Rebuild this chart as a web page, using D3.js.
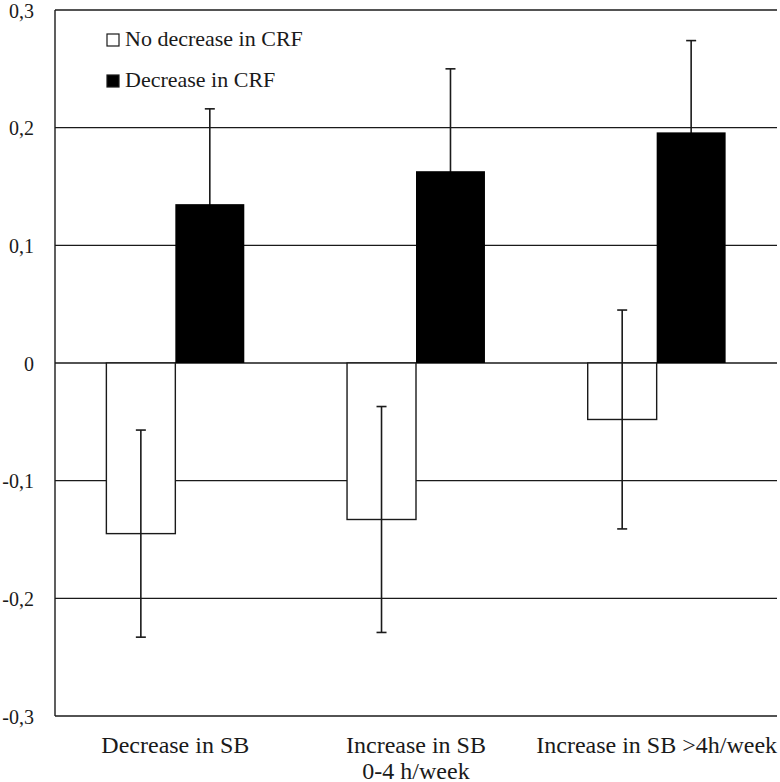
<!DOCTYPE html>
<html>
<head>
<meta charset="utf-8">
<script src="https://cdn.jsdelivr.net/npm/d3@7"></script>
<style>
  html, body { margin: 0; padding: 0; background: #fff; }
</style>
</head>
<body>
<svg id="chart" width="780" height="782"></svg>
<script>
// ---- Data ----
const categories = ["Decrease in SB", "Increase in SB\n0-4 h/week", "Increase in SB >4h/week"];
const seriesNames = ["No decrease in CRF", "Decrease in CRF"];
const noDecreaseValues = [-0.145, -0.133, -0.048];
const noDecreaseErrors = [0.088, 0.096, 0.093];
const decreaseValues = [0.135, 0.163, 0.196];
const decreaseErrors = [0.081, 0.087, 0.078];
const yTicks = [-0.3, -0.2, -0.1, 0, 0.1, 0.2, 0.3];

const seriesValues = [noDecreaseValues, decreaseValues];
const seriesErrors = [noDecreaseErrors, decreaseErrors];
const seriesFill = ["#ffffff", "#000000"];

// ---- Layout ----
const FONT = "Liberation Serif";
(function () {
const svg = d3.select("#chart");
const mLeft = 55, mRight = 777, mTop = 10, mBottom = 716;
const ink = "#1a1a1a";

const y = d3.scaleLinear().domain([-0.3, 0.3]).range([mBottom, mTop]);
const x0 = d3.scaleBand().domain(categories).range([mLeft, mRight]).padding(0);
const x1 = d3.scaleBand().domain(seriesNames).range([0, x0.bandwidth()])
  .paddingInner(0).paddingOuter(0.745);

const fmt = d => d === 0 ? "0" : d3.format(".1f")(d).replace(".", ",").replace("−", "-");

// gridlines
svg.append("g").selectAll("line").data(yTicks).join("line")
  .attr("x1", mLeft).attr("x2", mRight)
  .attr("y1", d => y(d)).attr("y2", d => y(d))
  .attr("stroke", ink).attr("stroke-width", 1.4);

// left axis line
svg.append("line").attr("x1", mLeft).attr("x2", mLeft)
  .attr("y1", y(0.3)).attr("y2", y(-0.3))
  .attr("stroke", ink).attr("stroke-width", 1.4);

// y tick labels
svg.append("g").selectAll("text").data(yTicks).join("text")
  .attr("x", 34).attr("y", d => y(d) + 7.5)
  .attr("text-anchor", "end")
  .attr("font-family", FONT)
  .attr("font-size", 20).attr("fill", ink)
  .text(fmt);

// rows
const rows = [];
categories.forEach((c, i) => {
  seriesNames.forEach((s, j) => {
    rows.push({ cat: c, ser: s, j, v: seriesValues[j][i], e: seriesErrors[j][i] });
  });
});
const cx = d => x0(d.cat) + x1(d.ser) + x1.bandwidth() / 2;

function drawErrors(data) {
  const g = svg.append("g").attr("stroke", ink).attr("stroke-width", 1.6);
  g.selectAll("line.v").data(data).join("line").attr("class", "v")
    .attr("x1", cx).attr("x2", cx)
    .attr("y1", d => y(d.v + d.e)).attr("y2", d => y(d.v - d.e));
  g.selectAll("line.capt").data(data).join("line").attr("class", "capt")
    .attr("x1", d => cx(d) - 5).attr("x2", d => cx(d) + 5)
    .attr("y1", d => y(d.v + d.e)).attr("y2", d => y(d.v + d.e));
  g.selectAll("line.capb").data(data).join("line").attr("class", "capb")
    .attr("x1", d => cx(d) - 5).attr("x2", d => cx(d) + 5)
    .attr("y1", d => y(d.v - d.e)).attr("y2", d => y(d.v - d.e));
}

// error bars of black series go behind the bars (lower whisker hidden)
drawErrors(rows.filter(d => d.j === 1));

svg.append("g").selectAll("rect").data(rows).join("rect")
  .attr("x", d => x0(d.cat) + x1(d.ser))
  .attr("width", x1.bandwidth())
  .attr("y", d => y(Math.max(0, d.v)))
  .attr("height", d => Math.abs(y(d.v) - y(0)))
  .attr("fill", d => seriesFill[d.j])
  .attr("stroke", d => d.j === 0 ? ink : "none")
  .attr("stroke-width", 1.4);

drawErrors(rows.filter(d => d.j === 0));

// x labels
const gx = svg.append("g");
categories.forEach(c => {
  const lines = c.split("\n");
  lines.forEach((ln, k) => {
    gx.append("text")
      .attr("x", x0(c) + x0.bandwidth() / 2)
      .attr("y", 753 + k * 26)
      .attr("text-anchor", "middle")
      .attr("font-family", FONT)
      .attr("font-size", 24).attr("fill", ink)
      .text(ln);
  });
});

// legend
const legend = svg.append("g");
seriesNames.forEach((s, j) => {
  const ly = 40 + j * 41;
  legend.append("rect")
    .attr("x", 107).attr("y", ly - 6).attr("width", 12).attr("height", 12)
    .attr("fill", seriesFill[j]).attr("stroke", ink).attr("stroke-width", 1.2);
  legend.append("text")
    .attr("x", 125).attr("y", ly + 6)
    .attr("font-family", FONT)
    .attr("font-size", 22).attr("fill", ink)
    .text(s);
});

svg.selectAll("text").each(function () { this.getComputedTextLength(); });
})();
</script>
</body>
</html>
